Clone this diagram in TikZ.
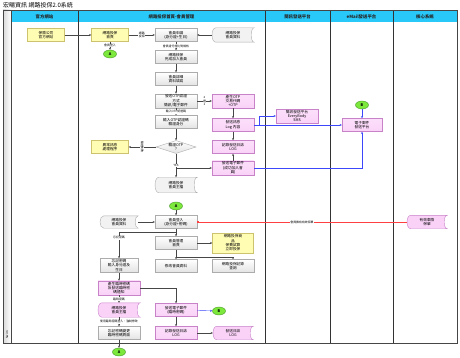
\documentclass[tikz,border=0pt]{standalone}
\usepackage{fontspec}
\setmainfont{Noto Sans CJK TC}
\usetikzlibrary{positioning, arrows.meta, calc, shapes.geometric, backgrounds}
\definecolor{lanecyan}{RGB}{40,200,248}
\definecolor{ylwfill}{RGB}{255,252,180}
\definecolor{ylwdraw}{RGB}{205,195,110}
\definecolor{pnkfill}{RGB}{250,210,248}
\definecolor{pnkdraw}{RGB}{200,130,200}
\definecolor{grnfill}{RGB}{125,232,60}
\definecolor{grndraw}{RGB}{70,150,40}
\definecolor{lnblue}{RGB}{60,70,250}
\newcommand\boxfont{\fontsize{3.7}{4.3}\selectfont}
\newcommand\lblfont{\fontsize{2.9}{3.3}\selectfont}
\newcommand\hdrfont{\fontsize{4.4}{5}\selectfont\bfseries}
\newcommand\drawstore[3]{%
  \begin{scope}[on background layer]
  \path[fill=#2, draw=#3, line width=0.4pt]
    ($(#1.north west)+(4,0)$) -- (#1.north east)
    .. controls ($(#1.north east)+(-4,0)$) and ($(#1.south east)+(-4,0)$) .. (#1.south east)
    -- ($(#1.south west)+(4,0)$)
    .. controls ($(#1.south west)+(-1,0)$) and ($(#1.north west)+(-1,0)$) .. ($(#1.north west)+(4,0)$)
    -- cycle;
  \end{scope}}
\tikzset{
  grybox/.style = {draw=gray!65, top color=white, bottom color=gray!22, rectangle,
                   align=center, inner sep=1pt, minimum width=42, minimum height=13, font=\boxfont},
  ylwbox/.style = {grybox, draw=ylwdraw, top color=ylwfill, bottom color=ylwfill, minimum width=37},
  pnkbox/.style = {grybox, draw=pnkdraw, top color=pnkfill!70, bottom color=pnkfill},
  store/.style  = {align=center, inner sep=1pt, minimum width=42, minimum height=14, font=\boxfont},
  endpt/.style  = {ellipse, draw=grndraw, fill=grnfill, minimum width=13, minimum height=8,
                   inner sep=0pt, font=\boxfont\bfseries},
  chk/.style    = {diamond, draw=gray!65, top color=white, bottom color=gray!22, aspect=3,
                   minimum width=40, minimum height=13, inner sep=0pt, align=center, font=\boxfont},
  ar/.style     = {draw=gray!55!black, line width=0.4pt, -{Stealth[length=2.2pt, width=2pt]}},
  blu/.style    = {ar, draw=lnblue},
  redln/.style  = {draw=red!75, line width=0.35pt, {Square[length=1.6pt, width=1.6pt]}-},
  lbl/.style    = {font=\lblfont, inner sep=0.4pt, fill=white, align=center},
  hdr/.style    = {font=\hdrfont, text=black!85},
}

\begin{document}
\begin{tikzpicture}[x=1pt, y=-1pt]
  \useasboundingbox (0,0) rectangle (460,358);
  % ---- frame and lanes ----
  \node[anchor=west, inner sep=0pt, font=\fontsize{6}{7}\selectfont] (title) at (3,5) {宏暘資訊 網路投保2.0系統};
  \fill[lanecyan] (11,11) rectangle (457,22);
  \shade[left color=gray!30, right color=white] (3,10) rectangle (11,343);
  \draw[gray!55!black, line width=0.5pt] (3,10) rectangle (457,343);
  \draw[gray!55!black, line width=0.4pt] (11,10) -- (11,343);
  \foreach \x in {78,265,330,393}
    \draw[gray!40!black, line width=0.5pt] (\x,11) -- (\x,343);
  \node[hdr] (h1) at (44.5,16.5) {官方網站};
  \node[hdr] (h2) at (171.5,16.5) {網路投保首頁-會員管理};
  \node[hdr] (h3) at (297.5,16.5) {簡訊發送平台};
  \node[hdr] (h4) at (361.5,16.5) {eMail發送平台};
  \node[hdr] (h5) at (425,16.5) {核心系統};
  \node[rotate=90, inner sep=0pt, font=\lblfont] (pool) at (7,335) {Swim};

  % ---- apply for membership ----
  \node[ylwbox] (offsite) at (46,35) {保險公司\\官方網站};
  \node[ylwbox] (home) at (110,35) {網路投保\\首頁};
  \node[grybox] (apply) at (176,35) {會員申請\\(身分證+生日)};
  \node[store] (memdata) at (233,35) {網路投保\\會員資料};
  \drawstore{memdata}{gray!10}{gray!65}
  \node[endpt] (a1) at (110,54) {A};
  \node[grybox] (join) at (176,57) {網路核保\\完成加入會員};
  \node[grybox] (detail) at (176,79) {會員詳細\\資料填寫};
  \node[grybox] (otpway) at (176,101) {發送OTP認證\\方式\\簡訊/電子郵件};
  \node[pnkbox] (otpgen) at (233,101) {產生OTP\\交易代碼\\+OTP};
  \node[grybox] (otpin) at (176,122) {輸入OTP認證碼\\驗證身分};
  \node[pnkbox] (msglog) at (233,125) {發送訊息\\Log 內容};
  \node[pnkbox] (sms) at (297,116) {簡訊發送平台\\EveryBody\\SMS};
  \node[endpt] (b1) at (362,105) {B};
  \node[pnkbox, minimum width=40] (mailsrv) at (362,125) {電子郵件\\發送平台};
  \node[chk] (otpok) at (176,147) {驗證OTP\\?};
  \node[ylwbox] (errproc) at (110,147) {異常訊息\\處理程序};
  \node[pnkbox] (sendlog) at (233,147) {記錄發送日誌\\LOG};
  \node[pnkbox] (welcome) at (233,168) {發送電子郵件\\(成功加入會\\員)};
  \node[store, minimum height=15] (master) at (176,185) {網路投保\\會員主檔};
  \drawstore{master}{gray!10}{gray!65}

  \draw[ar] (offsite) -- (home);
  \draw[ar] (home) -- node[lbl] {網路\\投保} (apply);
  \draw[ar] (memdata) -- (apply);
  \draw[ar] (home) -- node[lbl] {會員登入} (a1);
  \draw[ar] (apply) -- node[lbl] {會員身分證比對檢核} (join);
  \draw[ar] (join) -- (detail);
  \draw[ar] (detail) -- (otpway);
  \draw[ar] (otpway) -- node[lbl] {2\\選\\1} (otpgen);
  \draw[ar] (otpway) -- node[lbl] {輸入OTP認證碼} (otpin);
  \draw[ar] (otpgen) -- (msglog);
  \draw[ar] (msglog) -- (sendlog);
  \draw[ar] (welcome) -- (sendlog);
  \draw[ar] (otpin) -- (otpok);
  \draw[ar] (otpok) -- node[lbl, rotate=-90] {驗證失敗} (errproc);
  \draw[ar] (otpok) -- node[lbl, pos=0.5] {YES} (master);
  \draw[ar] (otpok.south |- welcome.west) -- (welcome.west);
  \draw[blu] (msglog.east) -- ++(5,0) |- (sms.west);
  \draw[blu] (msglog.east) -- (msglog.east -| mailsrv.west);
  \draw[blu] (b1) -- (mailsrv);
  \draw[blu] (welcome.east) -| (mailsrv.south);

  % ---- member login ----
  \node[endpt] (a2) at (176,206) {A};
  \node[grybox] (login) at (176,222) {會員登入\\(身分證+密碼)};
  \node[store, minimum width=38, minimum height=12] (memdata2) at (119,222) {網路投保\\會員資料};
  \drawstore{memdata2}{gray!10}{gray!65}
  \node[store, minimum width=40, minimum height=13] (policy) at (427,222) {有效車險\\保單};
  \drawstore{policy}{pnkfill}{pnkdraw}
  \node[grybox] (mgmt) at (176,243) {會員管理\\首頁};
  \node[ylwbox, minimum width=41, minimum height=20] (product) at (233,243) {網路投保商\\品\\保費試算\\立即投保};
  \node[grybox] (modify) at (176,266) {修改會員資料};
  \node[grybox] (history) at (233,266) {網路投保記錄\\查詢};
  \coordinate (lgsplit) at (176,232);
  \coordinate (mgsplit) at (176,257);

  \draw[ar] (a2) -- (login);
  \draw[ar] (memdata2) -- (login);
  \draw[redln] (login) -- node[lbl] {會員擁有有效保單} (policy);
  \draw[ar] (login) -- (mgmt);
  \draw[ar] (mgmt) -- (product);
  \draw[ar] (mgmt) -- (modify);
  \draw[ar] (mgsplit) -| (history.north);

  % ---- forgotten password ----
  \node[grybox, minimum width=38] (forgot) at (119,265.5) {忘記密碼\\輸入身分證及\\生日};
  \node[pnkbox] (tmppw) at (119,288) {產生臨時密碼\\及發送臨時密\\碼通知};
  \node[store] (master2) at (119,310) {網路投保\\會員主檔};
  \drawstore{master2}{pnkfill}{pnkdraw}
  \node[grybox] (chgpw) at (119,333) {忘記密碼變更\\臨時密碼頁面};
  \node[pnkbox] (tmpmail) at (176,310) {發送電子郵件\\(臨時密碼)};
  \node[endpt] (b2) at (219,311) {B};
  \node[pnkbox] (tmplog) at (176,333) {記錄發送日誌\\LOG};
  \node[store, minimum width=40, minimum height=13] (logdb) at (233,333) {發送日誌\\LOG};
  \drawstore{logdb}{pnkfill}{pnkdraw}
  \node[endpt] (a3) at (119,352) {A};

  \draw[ar] (lgsplit) -| node[lbl, pos=0.61] {忘記密碼} (forgot.north);
  \draw[ar] (forgot) -- (tmppw);
  \draw[ar] (tmppw) -- node[lbl] {臨時密碼} (master2);
  \draw[ar] (master2) -- node[lbl] {使用臨時密碼登入，強制修改} (chgpw);
  \draw[ar] (chgpw) -- (a3);
  \draw[ar] (tmppw.east) -| (tmpmail.north);
  \draw[blu] (tmpmail) -- (b2);
  \draw[ar] (tmpmail) -- (tmplog);
  \draw[ar] (tmplog) -- (logdb);
\end{tikzpicture}
\end{document}
